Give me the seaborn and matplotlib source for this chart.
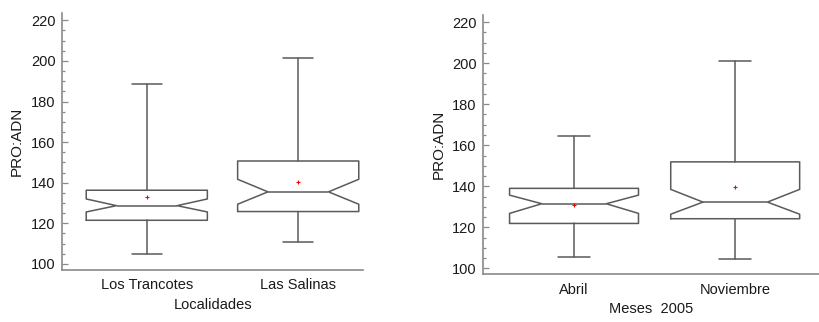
import matplotlib
matplotlib.use("Agg")
import matplotlib.pyplot as plt
from matplotlib.ticker import MultipleLocator
import seaborn as sns

# Datos (resumen de cada caja)
localidades = ["Los Trancotes", "Las Salinas"]
loc_min = [104.9, 111.0]
loc_q1 = [121.5, 125.8]
loc_med = [128.7, 135.5]
loc_q3 = [136.3, 150.7]
loc_max = [188.5, 201.3]
loc_cilo = [125.6, 129.4]
loc_cihi = [132.0, 141.7]
loc_media = [133.2, 140.4]

meses = ["Abril", "Noviembre"]
mes_min = [105.7, 104.7]
mes_q1 = [121.9, 124.2]
mes_med = [131.5, 132.3]
mes_q3 = [139.0, 151.9]
mes_max = [164.4, 201.1]
mes_cilo = [126.8, 126.4]
mes_cihi = [135.7, 138.5]
mes_media = [131.0, 139.5]

sns.set_style("ticks")
plt.rcParams["font.family"] = ["Liberation Sans", "DejaVu Sans"]

COLOR_LINEA = "#5a5a5a"
COLOR_EJE = "#8a8a8a"
COLOR_TEXTO = "#1a1a1a"


def armar_stats(nombres, mn, q1, med, q3, mx, cilo, cihi):
    stats = []
    for i in range(len(nombres)):
        stats.append({
            "label": nombres[i], "whislo": mn[i], "q1": q1[i], "med": med[i],
            "q3": q3[i], "whishi": mx[i], "cilo": cilo[i], "cihi": cihi[i],
            "fliers": [],
        })
    return stats


def dibujar_panel(ax, stats, medias, xlabel, xlim, ylim, ypad):
    props = dict(color=COLOR_LINEA, linewidth=1.1)
    ax.bxp(stats, positions=range(len(stats)), widths=0.8, capwidths=0.2,
           shownotches=True, showfliers=False, boxprops=props,
           whiskerprops=props, capprops=props, medianprops=props,
           manage_ticks=False)
    # media como una cruz roja pequena
    sns.scatterplot(x=list(range(len(medias))), y=medias, marker="+",
                    color="red", s=9, linewidth=0.8, ax=ax, zorder=5)
    ax.set_xticks(range(len(stats)))
    ax.set_xticklabels([s["label"] for s in stats])
    ax.set_xlim(*xlim)
    ax.set_ylim(*ylim)
    ax.yaxis.set_major_locator(MultipleLocator(20))
    ax.yaxis.set_minor_locator(MultipleLocator(5))
    ax.tick_params(axis="y", which="major", direction="in", length=4.3,
                   width=0.9, color=COLOR_EJE, labelsize=10.5,
                   labelcolor=COLOR_TEXTO, pad=4.5)
    ax.tick_params(axis="y", which="minor", direction="in", length=2.5,
                   width=0.9, color=COLOR_EJE)
    ax.tick_params(axis="x", length=0, labelsize=10.5,
                   labelcolor=COLOR_TEXTO, pad=6)
    ax.set_xlabel(xlabel, fontsize=10.5, color=COLOR_TEXTO, labelpad=4)
    ax.set_ylabel("PRO:ADN", fontsize=11, color=COLOR_TEXTO, labelpad=ypad)
    sns.despine(ax=ax)
    for lado in ["left", "bottom"]:
        ax.spines[lado].set_color(COLOR_EJE)
        ax.spines[lado].set_linewidth(1.2)


fig = plt.figure(figsize=(8.19, 3.22), dpi=100)
ax1 = fig.add_axes([0.0757, 0.1615, 0.3679, 0.798])
ax2 = fig.add_axes([0.5897, 0.148, 0.4103, 0.805])

stats_loc = armar_stats(localidades, loc_min, loc_q1, loc_med, loc_q3,
                        loc_max, loc_cilo, loc_cihi)
stats_mes = armar_stats(meses, mes_min, mes_q1, mes_med, mes_q3,
                        mes_max, mes_cilo, mes_cihi)

dibujar_panel(ax1, stats_loc, loc_media, "Localidades", (-0.56, 1.43), (97.0, 223.6), 5)
dibujar_panel(ax2, stats_mes, mes_media, "Meses  2005", (-0.565, 1.52), (97.1, 223.4), 4.5)

plt.savefig("out.png", dpi=100, facecolor="white")
plt.close()
